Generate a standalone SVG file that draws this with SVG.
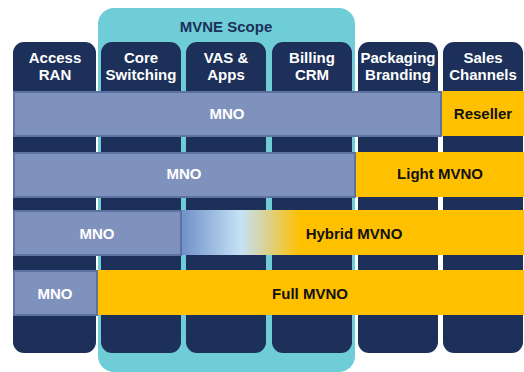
<svg xmlns="http://www.w3.org/2000/svg" width="524" height="372" viewBox="0 0 524 372">
<style>
.col{fill:#1c3059}
.hd{font-family:"Liberation Sans",Arial,sans-serif;font-weight:bold;font-size:15px;fill:#ffffff;text-anchor:middle}
.mno{fill:#7f92bd;stroke:#5d72a1;stroke-width:2}
.y{fill:#ffc000}
.wt{font-family:"Liberation Sans",Arial,sans-serif;font-weight:bold;font-size:15px;fill:#ffffff;text-anchor:middle}
.bt{font-family:"Liberation Sans",Arial,sans-serif;font-weight:bold;font-size:15px;fill:#111111;text-anchor:middle}
</style>
<defs>
<linearGradient id="hg" x1="181" y1="0" x2="300" y2="0" gradientUnits="userSpaceOnUse">
<stop offset="0" stop-color="#6f8fc8"/>
<stop offset="0.5" stop-color="#c4e1f6"/>
<stop offset="0.7" stop-color="#d8d39c"/>
<stop offset="1" stop-color="#ffc000"/>
</linearGradient>
</defs>
<g id="mvne-scope">
<rect x="98" y="8" width="257" height="364" rx="16" fill="#6ecdd6"/>
<text class="hd" x="226" y="32" style="fill:#1c3059">MVNE Scope</text>
</g>
<g id="col-access">
<rect class="col" x="13" y="42" width="83" height="311" rx="11"/>
<text class="hd" x="55" y="63">Access</text>
<text class="hd" x="55" y="80">RAN</text>
</g>
<g id="col-core">
<rect class="col" x="101" y="42" width="80" height="311" rx="11"/>
<text class="hd" x="141" y="63">Core</text>
<text class="hd" x="141" y="80">Switching</text>
</g>
<g id="col-vas">
<rect class="col" x="186" y="42" width="80" height="311" rx="11"/>
<text class="hd" x="226" y="63">VAS &amp;</text>
<text class="hd" x="226" y="80">Apps</text>
</g>
<g id="col-billing">
<rect class="col" x="272" y="42" width="80" height="311" rx="11"/>
<text class="hd" x="312" y="63">Billing</text>
<text class="hd" x="312" y="80">CRM</text>
</g>
<g id="col-packaging">
<rect class="col" x="358" y="42" width="80" height="311" rx="11"/>
<text class="hd" x="398" y="63">Packaging</text>
<text class="hd" x="398" y="80">Branding</text>
</g>
<g id="col-sales">
<rect class="col" x="443" y="42" width="80" height="311" rx="11"/>
<text class="hd" x="483" y="63">Sales</text>
<text class="hd" x="483" y="80">Channels</text>
</g>
<g id="row-reseller">
<rect class="mno" x="14" y="92" width="427" height="44"/>
<text class="wt" x="227" y="119">MNO</text>
<rect class="y" x="442" y="91" width="82" height="45"/>
<text class="bt" x="483" y="119">Reseller</text>
</g>
<g id="row-light">
<rect class="mno" x="14" y="153" width="341" height="44"/>
<text class="wt" x="184" y="179">MNO</text>
<rect class="y" x="356" y="152" width="168" height="45"/>
<text class="bt" x="440" y="179">Light MVNO</text>
</g>
<g id="row-hybrid">
<rect x="181" y="210" width="343" height="45" fill="url(#hg)"/>
<rect class="mno" x="14" y="211" width="167" height="44"/>
<text class="wt" x="97" y="239">MNO</text>
<text class="bt" x="354" y="239">Hybrid MVNO</text>
</g>
<g id="row-full">
<rect class="mno" x="14" y="271" width="83" height="44"/>
<text class="wt" x="55" y="299">MNO</text>
<rect class="y" x="98" y="270" width="426" height="45"/>
<text class="bt" x="310" y="299">Full MVNO</text>
</g>
<g id="connectors"></g>
</svg>
